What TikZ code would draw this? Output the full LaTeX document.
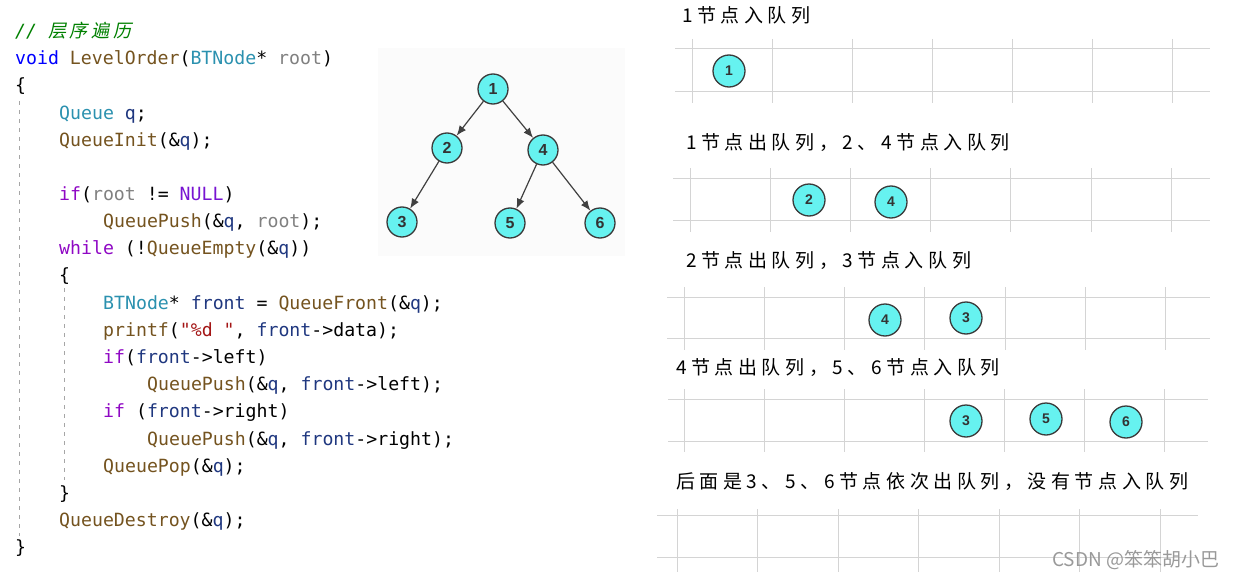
\documentclass[tikz,border=0pt]{standalone}
\usepackage{fontspec}
\usepackage{tikz}
\usetikzlibrary{arrows.meta,positioning}
\newfontfamily\codefont{DejaVu Sans Mono}
\newfontfamily\cjkit[FakeSlant=0.2,LetterSpace=20]{Noto Sans CJK SC}
\newfontfamily\titlefont[LetterSpace=24]{Noto Sans CJK SC}
\newfontfamily\markfont{Noto Sans CJK SC}
\newfontfamily\lblfont{Liberation Sans}
\definecolor{cmtgreen}{RGB}{0,128,0}
\definecolor{kwblue}{RGB}{0,0,255}
\definecolor{fnbrown}{RGB}{116,83,31}
\definecolor{tyteal}{RGB}{43,145,175}
\definecolor{prmgray}{RGB}{128,128,128}
\definecolor{varnavy}{RGB}{31,55,127}
\definecolor{kwpurple}{RGB}{143,8,196}
\definecolor{macviolet}{RGB}{120,20,210}
\definecolor{strred}{RGB}{163,21,21}
\definecolor{gridgray}{RGB}{212,212,212}
\definecolor{nodecyan}{RGB}{102,242,240}
\definecolor{ringgray}{RGB}{58,58,58}
\newcommand\tfn[1]{\textcolor{fnbrown}{#1}}
\newcommand\tty[1]{\textcolor{tyteal}{#1}}
\newcommand\tprm[1]{\textcolor{prmgray}{#1}}
\newcommand\tvar[1]{\textcolor{varnavy}{#1}}
\newcommand\tkw[1]{\textcolor{kwpurple}{#1}}
\tikzset{
  code/.style={
    anchor=base west,
    inner sep=0pt,
    font=\codefont\fontsize{18.2}{20}\selectfont
  },
  guide/.style={
    draw=black!35,
    line width=1pt,
    dash pattern=on 4pt off 5pt
  },
  treenode/.style={
    circle,
    draw=ringgray,
    fill=nodecyan,
    line width=1.3pt,
    minimum size=30pt,
    inner sep=0pt,
    text=black!80,
    font=\lblfont\bfseries\fontsize{16}{16}\selectfont
  },
  qnode/.style={
    circle,
    draw=ringgray,
    fill=nodecyan,
    line width=1.3pt,
    minimum size=32pt,
    inner sep=0pt,
    text=black!80,
    font=\lblfont\bfseries\fontsize{14}{14}\selectfont
  },
  title/.style={
    anchor=west,
    inner sep=0pt,
    font=\titlefont\fontsize{19}{19}\selectfont
  },
  treearrow/.style={
    -{Latex[length=10pt,width=8pt]},
    line width=1.2pt,
    draw=black!75
  },
  gridline/.style={
    draw=gridgray,
    line width=1pt
  }
}
\begin{document}
\begin{tikzpicture}[x=1pt,y=-1pt]
\useasboundingbox (0,0) rectangle (1237,578);
% code
\node[code] (l1) at (15,38) {\textcolor{cmtgreen}{\itshape // {\cjkit 层序遍历}}};
\node[code] (l2) at (15,65) {\textcolor{kwblue}{void} \tfn{LevelOrder}(\tty{BTNode}* \tprm{root})};
\node[code] (l3) at (15,92) {\{};
\node[code] (l4) at (59,119) {\tty{Queue} \tvar{q};};
\node[code] (l5) at (59,146) {\tfn{QueueInit}(\&\tvar{q});};
\node[code] (l6) at (59,200) {\tkw{if}(\tprm{root} != \textcolor{macviolet}{NULL})};
\node[code] (l7) at (103,227) {\tfn{QueuePush}(\&\tvar{q}, \tprm{root});};
\node[code] (l8) at (59,254) {\tkw{while} (!\tfn{QueueEmpty}(\&\tvar{q}))};
\node[code] (l9) at (59,281) {\{};
\node[code] (l10) at (103,309) {\tty{BTNode}* \tvar{front} = \tfn{QueueFront}(\&\tvar{q});};
\node[code] (l11) at (103,336) {\tfn{printf}(\textcolor{strred}{"\%d "}, \tvar{front}->data);};
\node[code] (l12) at (103,363) {\tkw{if}(\tvar{front}->left)};
\node[code] (l13) at (147,390) {\tfn{QueuePush}(\&\tvar{q}, \tvar{front}->left);};
\node[code] (l14) at (103,417) {\tkw{if} (\tvar{front}->right)};
\node[code] (l15) at (147,445) {\tfn{QueuePush}(\&\tvar{q}, \tvar{front}->right);};
\node[code] (l16) at (103,472) {\tfn{QueuePop}(\&\tvar{q});};
\node[code] (l17) at (59,499) {\}};
\node[code] (l18) at (59,526) {\tfn{QueueDestroy}(\&\tvar{q});};
\node[code] (l19) at (15,553) {\}};
\draw[guide] (19,101) -- (19,536);
\draw[guide] (64,288) -- (64,480);
% tree
\fill[black!1.5] (378,48) rectangle (625,256);
\node[treenode] (t1) at (493,89) {1};
\node[treenode] (t2) at (447,148) {2};
\node[treenode] (t4) at (543,150) {4};
\node[treenode] (t3) at (402,222) {3};
\node[treenode] (t5) at (510,223) {5};
\node[treenode] (t6) at (600,223) {6};
\draw[treearrow] (t1) -- (t2);
\draw[treearrow] (t1) -- (t4);
\draw[treearrow] (t2) -- (t3);
\draw[treearrow] (t4) -- (t5);
\draw[treearrow] (t4) -- (t6);
% queue grids
\foreach \xa/\dx/\ya/\yb/\hl/\hr/\vt/\vb in {
  692/80/49/91/675/1210/39/103,
  690/80.2/178/220/673/1210/168/232,
  684/80.3/297/338/667/1210/287/350,
  684/80/399/441/668/1208/389/452,
  677/80.5/515/557/657/1198/509/572}{
  \draw[gridline] (\hl,\ya) -- (\hr,\ya);
  \draw[gridline] (\hl,\yb) -- (\hr,\yb);
  \foreach \k in {0,...,6}
    \draw[gridline] (\xa+\k*\dx,\vt) -- (\xa+\k*\dx,\vb);
}
\node[title] (s1) at (682,15) {1节点入队列};
\node[title] (s2) at (686,143) {1节点出队列，2、4节点入队列};
\node[title] (s3) at (686,261) {2节点出队列，3节点入队列};
\node[title] (s4) at (676,368) {4节点出队列，5、6节点入队列};
\node[title] (s5) at (676,482) {后面是3、5、6节点依次出队列，没有节点入队列};
\node[qnode] (a1) at (729,71) {1};
\node[qnode] (b2) at (809,200) {2};
\node[qnode] (b4) at (891,202) {4};
\node[qnode] (c4) at (885,320) {4};
\node[qnode] (c3) at (966,318) {3};
\node[qnode] (d3) at (966,421) {3};
\node[qnode] (d5) at (1046,419) {5};
\node[qnode] (d6) at (1126,422) {6};
\node[anchor=west,inner sep=0pt,text=black!40,font=\markfont\fontsize{19}{19}\selectfont] (wm) at (1052,560) {CSDN @笨笨胡小巴};
\end{tikzpicture}
\end{document}
